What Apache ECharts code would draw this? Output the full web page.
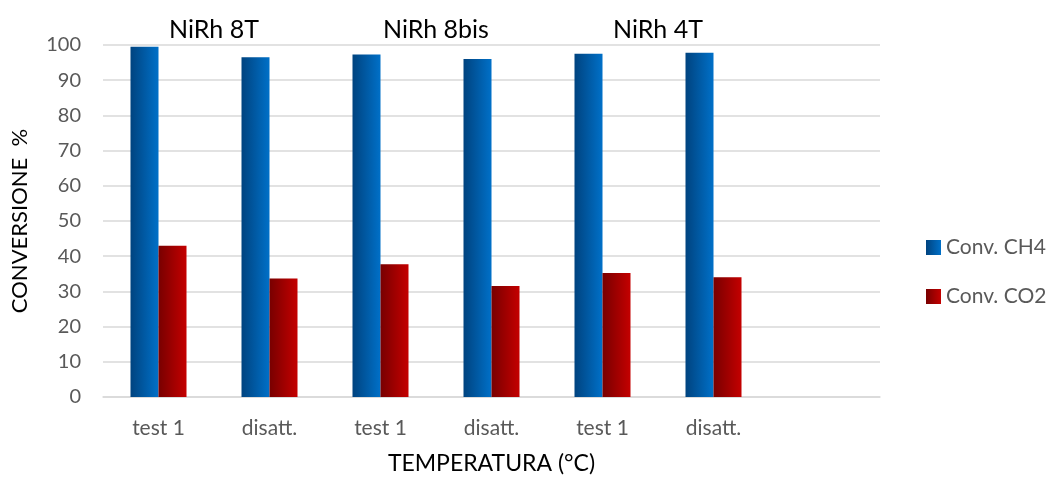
<!DOCTYPE html>
<html>
<head>
<meta charset="utf-8">
<script src="https://cdn.jsdelivr.net/npm/echarts@6/dist/echarts.min.js"></script>
<style>
  html, body { margin: 0; padding: 0; background: #fff; }
  #box { width: 1056px; height: 480px; }
</style>
</head>
<body>
<div id="box"></div>
<script>
// categories (last slot is empty like in the original sheet)
const categories = ['test 1', 'disatt.', 'test 1', 'disatt.', 'test 1', 'disatt.', '']
const groupNames = ['NiRh 8T', 'NiRh 8bis', 'NiRh 4T']
const ch4 = [99.5, 96.5, 97.3, 96.0, 97.5, 97.8, null]
const co2 = [43.0, 33.7, 37.7, 31.5, 35.2, 34.0, null]

const font = 'Lato, "Open Sans", sans-serif'

function grad(c1, c2) {
  return new echarts.graphic.LinearGradient(0, 0, 1, 0, [
    { offset: 0, color: c1 },
    { offset: 1, color: c2 }
  ])
}

const myChart = echarts.init(document.getElementById('box'))
myChart.setOption({
  animation: false,
  textStyle: { fontFamily: font },
  grid: { left: 103, right: 176, top: 45, bottom: 80 },
  legend: {
    orient: 'vertical',
    left: 921,
    top: 232,
    itemWidth: 15,
    itemHeight: 15,
    itemGap: 28,
    icon: 'rect',
    textStyle: { color: '#595959', fontSize: 21, fontFamily: font },
    data: ['Conv. CH4', 'Conv. CO2']
  },
  xAxis: {
    type: 'category',
    data: categories,
    name: 'TEMPERATURA (°C)',
    nameLocation: 'middle',
    nameGap: 55,
    nameTextStyle: { color: '#000', fontSize: 23, fontFamily: font },
    axisLine: { lineStyle: { color: '#d9d9d9', width: 1.5 } },
    axisTick: { show: false },
    axisLabel: { color: '#595959', fontSize: 21, margin: 21, interval: 0 }
  },
  yAxis: {
    type: 'value',
    min: 0,
    max: 100,
    interval: 10,
    name: 'CONVERSIONE  %',
    nameLocation: 'middle',
    nameGap: 72,
    nameTextStyle: { color: '#000', fontSize: 22, fontFamily: font },
    axisLine: { show: false },
    axisTick: { show: false },
    axisLabel: { color: '#595959', fontSize: 20, margin: 22 },
    splitLine: { lineStyle: { color: '#d9d9d9', width: 1.5 } }
  },
  series: [
    {
      name: 'Conv. CH4',
      type: 'bar',
      data: ch4,
      barWidth: 28,
      barGap: '0%',
      itemStyle: { color: grad('#00437f', '#0070c8') }
    },
    {
      name: 'Conv. CO2',
      type: 'bar',
      data: co2,
      barWidth: 28,
      barGap: '0%',
      itemStyle: { color: grad('#780000', '#c40000') }
    }
  ]
})

// group titles centred over each pair of categories
const titles = groupNames.map((name, i) => {
  const a = myChart.convertToPixel({ xAxisIndex: 0 }, i * 2)
  const b = myChart.convertToPixel({ xAxisIndex: 0 }, i * 2 + 1)
  return {
    type: 'text',
    x: (a + b) / 2,
    y: 30,
    style: {
      text: name,
      fill: '#000',
      font: '25px ' + font,
      align: 'center',
      verticalAlign: 'middle'
    }
  }
})
myChart.setOption({ graphic: titles })
</script>
</body>
</html>
